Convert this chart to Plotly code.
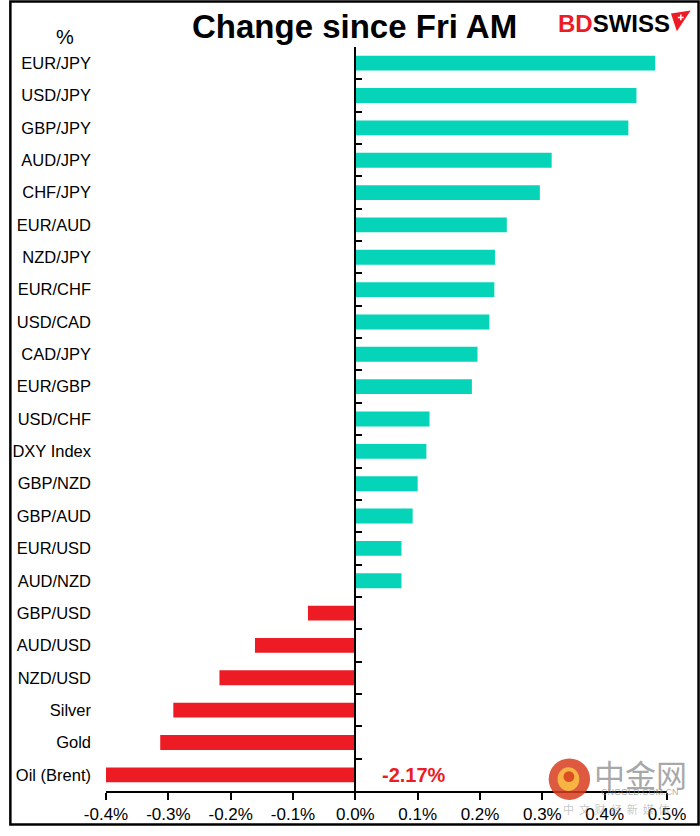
import plotly.graph_objects as go

categories = ["EUR/JPY", "USD/JPY", "GBP/JPY", "AUD/JPY", "CHF/JPY", "EUR/AUD", "NZD/JPY",
              "EUR/CHF", "USD/CAD", "CAD/JPY", "EUR/GBP", "USD/CHF", "DXY Index", "GBP/NZD",
              "GBP/AUD", "EUR/USD", "AUD/NZD", "GBP/USD", "AUD/USD", "NZD/USD", "Silver",
              "Gold", "Oil (Brent)"]
values = [0.481, 0.451, 0.438, 0.315, 0.296, 0.243, 0.224, 0.223, 0.215, 0.196, 0.187,
          0.119, 0.114, 0.100, 0.092, 0.074, 0.074, -0.076, -0.161, -0.218, -0.292,
          -0.313, -2.17]
x_ticks = [-0.4, -0.3, -0.2, -0.1, 0.0, 0.1, 0.2, 0.3, 0.4, 0.5]
x_tick_labels = ["-0.4%", "-0.3%", "-0.2%", "-0.1%", "0.0%", "0.1%", "0.2%", "0.3%", "0.4%", "0.5%"]

POS = "#05D4B8"
NEG = "#ED1C24"
colors = [POS if v >= 0 else NEG for v in values]
FONT = "Liberation Sans, Arial, sans-serif"

W, H = 700, 836
ML, MR, MT, MB = 98, 33, 47, 35
PW, PH = W - ML - MR, H - MT - MB


def px(x):
    return (x - ML) / PW


def py(y):
    return (H - MB - y) / PH


fig = go.Figure()
fig.add_trace(go.Bar(x=values, y=categories, orientation="h", marker_color=colors,
                     marker_line_width=0, width=0.46, hoverinfo="skip", showlegend=False))
# helper trace so the axis at zero gets its category ticks
fig.add_trace(go.Bar(x=[0] * len(categories), y=categories, orientation="h", yaxis="y2",
                     marker_color="rgba(0,0,0,0)", hoverinfo="skip", showlegend=False))

n = len(categories)
fig.update_layout(
    width=W, height=H,
    margin=dict(l=ML, r=MR, t=MT, b=MB),
    paper_bgcolor="white", plot_bgcolor="white",
    font=dict(family=FONT, color="black"),
    xaxis=dict(range=[-0.4, 0.5], tickvals=x_ticks, ticktext=x_tick_labels,
               showgrid=False, zeroline=False, showline=True, linecolor="black", linewidth=1.5,
               ticks="outside", ticklen=7, tickcolor="black", tickwidth=1.5,
               tickfont=dict(size=17, family=FONT, color="black")),
    yaxis=dict(type="category", categoryorder="array", categoryarray=categories,
               range=[n - 0.5, -0.5], showgrid=False, zeroline=False, showline=False,
               ticks="", ticklabelstandoff=14,
               tickfont=dict(size=16.5, family=FONT, color="black")),
    yaxis2=dict(type="category", categoryorder="array", categoryarray=categories,
                range=[n - 0.5, -0.5], overlaying="y", anchor="free", position=0.4 / 0.9,
                side="left", showgrid=False, zeroline=False, showline=True, linecolor="black",
                linewidth=1.5, ticks="inside", tickson="boundaries", ticklen=6,
                tickcolor="black", tickwidth=1.5, showticklabels=False),
)

GRAY = "rgba(140,140,140,0.75)"
ann = [
    dict(text="<b>Change since Fri AM</b>", x=px(350), y=py(26), xref="paper", yref="paper",
         xanchor="center", yanchor="middle", showarrow=False,
         font=dict(size=33, family=FONT, color="black")),
    dict(text="%", x=px(56), y=py(37), xref="paper", yref="paper",
         xanchor="center", yanchor="middle", showarrow=False,
         font=dict(size=20, family=FONT, color="black")),
    dict(text="<b><span style='color:#ED1C24'>BD</span>SWISS</b>",
         x=px(554), y=py(23), xref="paper", yref="paper", xanchor="left",
         yanchor="middle", showarrow=False,
         font=dict(size=24, family=FONT, color="black")),
    dict(text="<b>-2.17%</b>", x=0.04, y="Oil (Brent)", xref="x", yref="y",
         xanchor="left", yanchor="middle", showarrow=False,
         font=dict(size=20, family=FONT, color=NEG)),
    # watermark
    dict(text="中金网", x=px(640), y=py(783), xref="paper", yref="paper",
         xanchor="center", yanchor="middle", showarrow=False,
         font=dict(size=31, family="Noto Sans CJK SC", color=GRAY)),
    dict(text="CNGOLD.COM.CN", x=px(640), y=py(802), xref="paper", yref="paper",
         xanchor="center", yanchor="middle", showarrow=False,
         font=dict(size=9, family=FONT, color=GRAY)),
    dict(text="中  文  财  经  新  媒  体", x=px(616), y=py(819), xref="paper", yref="paper",
         xanchor="center", yanchor="middle", showarrow=False,
         font=dict(size=11, family="Noto Sans CJK SC", color="rgba(150,150,150,0.55)")),
]
fig.layout.annotations = ann

shapes = [
    # outer frame
    dict(type="rect", xref="paper", yref="paper", x0=px(1), x1=px(W - 1), y0=py(H - 1), y1=py(1),
         line=dict(color="black", width=2.5), fillcolor="rgba(0,0,0,0)", layer="above"),
    # BDSWISS flag icon
    dict(type="path", xref="paper", yref="paper",
         path=f"M {px(671)} {py(13)} L {px(691)} {py(10)} L {px(677)} {py(31)} Z",
         fillcolor=NEG, line=dict(width=0)),
    dict(type="path", xref="paper", yref="paper",
         path=(f"M {px(678)} {py(17)} L {px(684)} {py(17)} M {px(681)} {py(14)} L {px(681)} {py(20)}"),
         line=dict(color="white", width=1.5)),
    # watermark circle
    dict(type="circle", xref="paper", yref="paper", x0=px(547), x1=px(589),
         y0=py(810), y1=py(768), fillcolor="rgba(215,60,30,0.85)", line=dict(width=0),
         layer="above"),
    dict(type="circle", xref="paper", yref="paper", x0=px(556), x1=px(578),
         y0=py(801), y1=py(777), fillcolor="rgba(250,190,70,0.9)", line=dict(width=0),
         layer="above"),
    dict(type="circle", xref="paper", yref="paper", x0=px(562), x1=px(573),
         y0=py(792), y1=py(781), fillcolor="rgba(215,60,30,0.85)", line=dict(width=0),
         layer="above"),
]
fig.layout.shapes = shapes

fig.write_html(
    "out.html",
    config={"displayModeBar": False, "responsive": False},
    post_script=("var s=document.createElement('style');"
                 "s.innerHTML='html,body{margin:0!important;padding:0!important;overflow:hidden!important;}';"
                 "document.head.appendChild(s);"),
)
